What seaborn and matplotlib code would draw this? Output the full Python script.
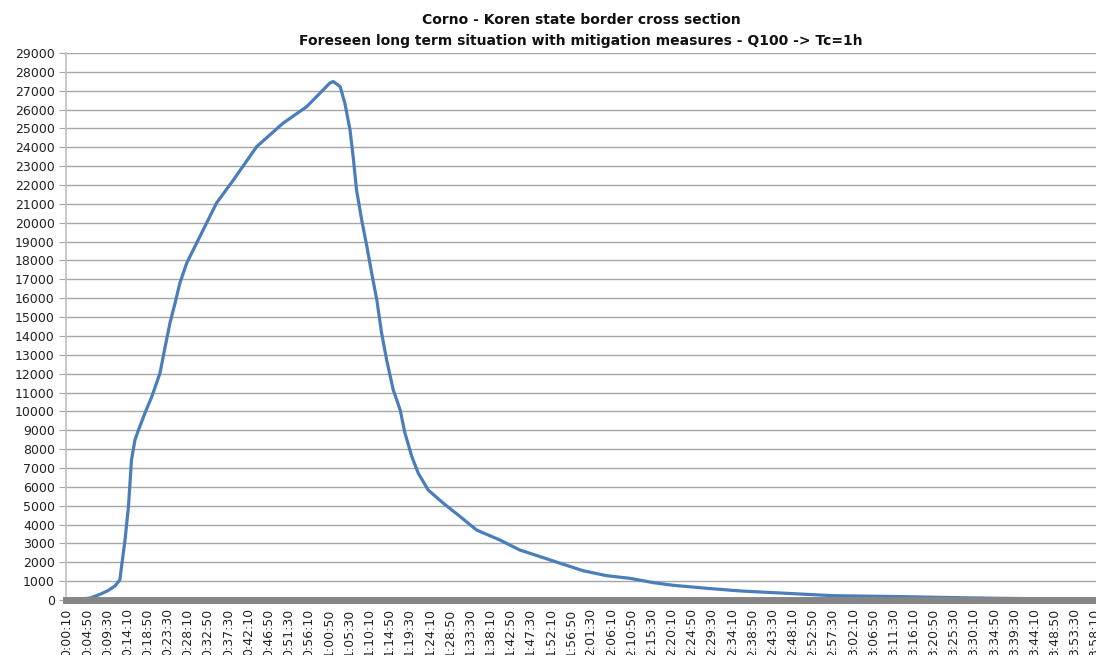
import pandas as pd
import matplotlib
matplotlib.use('Agg')
import matplotlib.pyplot as plt
import seaborn as sns

# discharge hydrograph (time in minutes, value)
minutes = [0.17, 5.5, 7.8, 9.7, 11.3, 12.4, 12.8, 13.6, 14.4, 14.8, 15.1, 15.9,
           16.7, 18.2, 19.8, 20.9, 21.7, 22.9, 24.0, 25.2, 26.3, 27.9, 30.2,
           32.5, 34.8, 38.7, 44.1, 50.2, 55.7, 61.0, 61.8, 63.4, 64.5, 65.7,
           66.5, 67.2, 68.4, 69.6, 70.7, 71.9, 73.0, 74.2, 75.7, 77.3, 78.4,
           80.0, 81.5, 83.8, 87.3, 91.2, 95.0, 100.4, 105.0, 109.7, 114.3,
           119.7, 125.1, 130.5, 135.9, 140.5, 148.3, 156.0, 163.7, 171.4,
           177.5, 193.0, 204.6, 216.1, 227.7, 238.4]
flow = [0, 100, 300, 500, 750, 1060, 1770, 3180, 4950, 6360, 7420, 8480,
        9000, 9900, 10780, 11500, 12030, 13430, 14680, 15750, 16800, 17870,
        18930, 19990, 21050, 22270, 24040, 25280, 26160, 27400, 27490, 27220,
        26340, 24920, 23330, 21740, 20150, 18740, 17340, 15910, 14160, 12700,
        11140, 10080, 8860, 7600, 6720, 5830, 5130, 4420, 3710, 3180, 2650,
        2300, 1950, 1550, 1290, 1150, 920, 780, 620, 480, 390, 300, 230, 180,
        130, 90, 60, 40]

time_labels = ['0:00:10', '0:04:50', '0:09:30', '0:14:10', '0:18:50', '0:23:30',
               '0:28:10', '0:32:50', '0:37:30', '0:42:10', '0:46:50', '0:51:30',
               '0:56:10', '1:00:50', '1:05:30', '1:10:10', '1:14:50', '1:19:30',
               '1:24:10', '1:28:50', '1:33:30', '1:38:10', '1:42:50', '1:47:30',
               '1:52:10', '1:56:50', '2:01:30', '2:06:10', '2:10:50', '2:15:30',
               '2:20:10', '2:24:50', '2:29:30', '2:34:10', '2:38:50', '2:43:30',
               '2:48:10', '2:52:50', '2:57:30', '3:02:10', '3:06:50', '3:11:30',
               '3:16:10', '3:20:50', '3:25:30', '3:30:10', '3:34:50', '3:39:30',
               '3:44:10', '3:48:50', '3:53:30', '3:58:10']
y_ticks = list(range(0, 29001, 1000))

df = pd.DataFrame({'minutes': minutes, 'flow': flow})


def to_minutes(label):
    h, m, s = label.split(':')
    return int(h) * 60 + int(m) + int(s) / 60


sns.set_style('white')
plt.rcParams['font.family'] = ['DejaVu Sans']

fig = plt.figure(figsize=(10.96, 6.55), dpi=100)
ax = fig.add_axes([66 / 1096, 1 - 600 / 655, 1 - 66 / 1096, (600 - 53) / 655])

sns.lineplot(data=df, x='minutes', y='flow', ax=ax, color='#4a7ebb', linewidth=2.3)

ax.set_xlim(-0.06, 238.4)
ax.set_ylim(0, 29000)
ax.set_yticks(y_ticks)
ax.set_yticklabels([str(v) for v in y_ticks], fontsize=9, color='#222222')
ax.set_xticks([to_minutes(t) for t in time_labels])
ax.set_xticklabels(time_labels, rotation=90, fontsize=9, color='#222222')
ax.grid(axis='y', color='#a6a6a6', linewidth=1)
ax.set_axisbelow(True)
ax.set_xlabel('')
ax.set_ylabel('')

for side in ['top', 'right']:
    ax.spines[side].set_visible(False)
ax.spines['left'].set_color('#c0c0c0')
ax.spines['left'].set_linewidth(1.2)
ax.spines['bottom'].set_color('#868686')
ax.spines['bottom'].set_linewidth(5)
ax.tick_params(axis='y', length=5, color='#a6a6a6', pad=3, left=True)
ax.tick_params(axis='x', length=0, pad=6)

fig.text(581 / 1096, 1 - 20 / 655, 'Corno - Koren state border cross section',
         ha='center', va='center', fontsize=10, fontweight='bold', color='#111111')
fig.text(581 / 1096, 1 - 41 / 655,
         'Foreseen long term situation with mitigation measures - Q100 -> Tc=1h',
         ha='center', va='center', fontsize=10, fontweight='bold', color='#111111')

fig.savefig('out.png', dpi=100)
